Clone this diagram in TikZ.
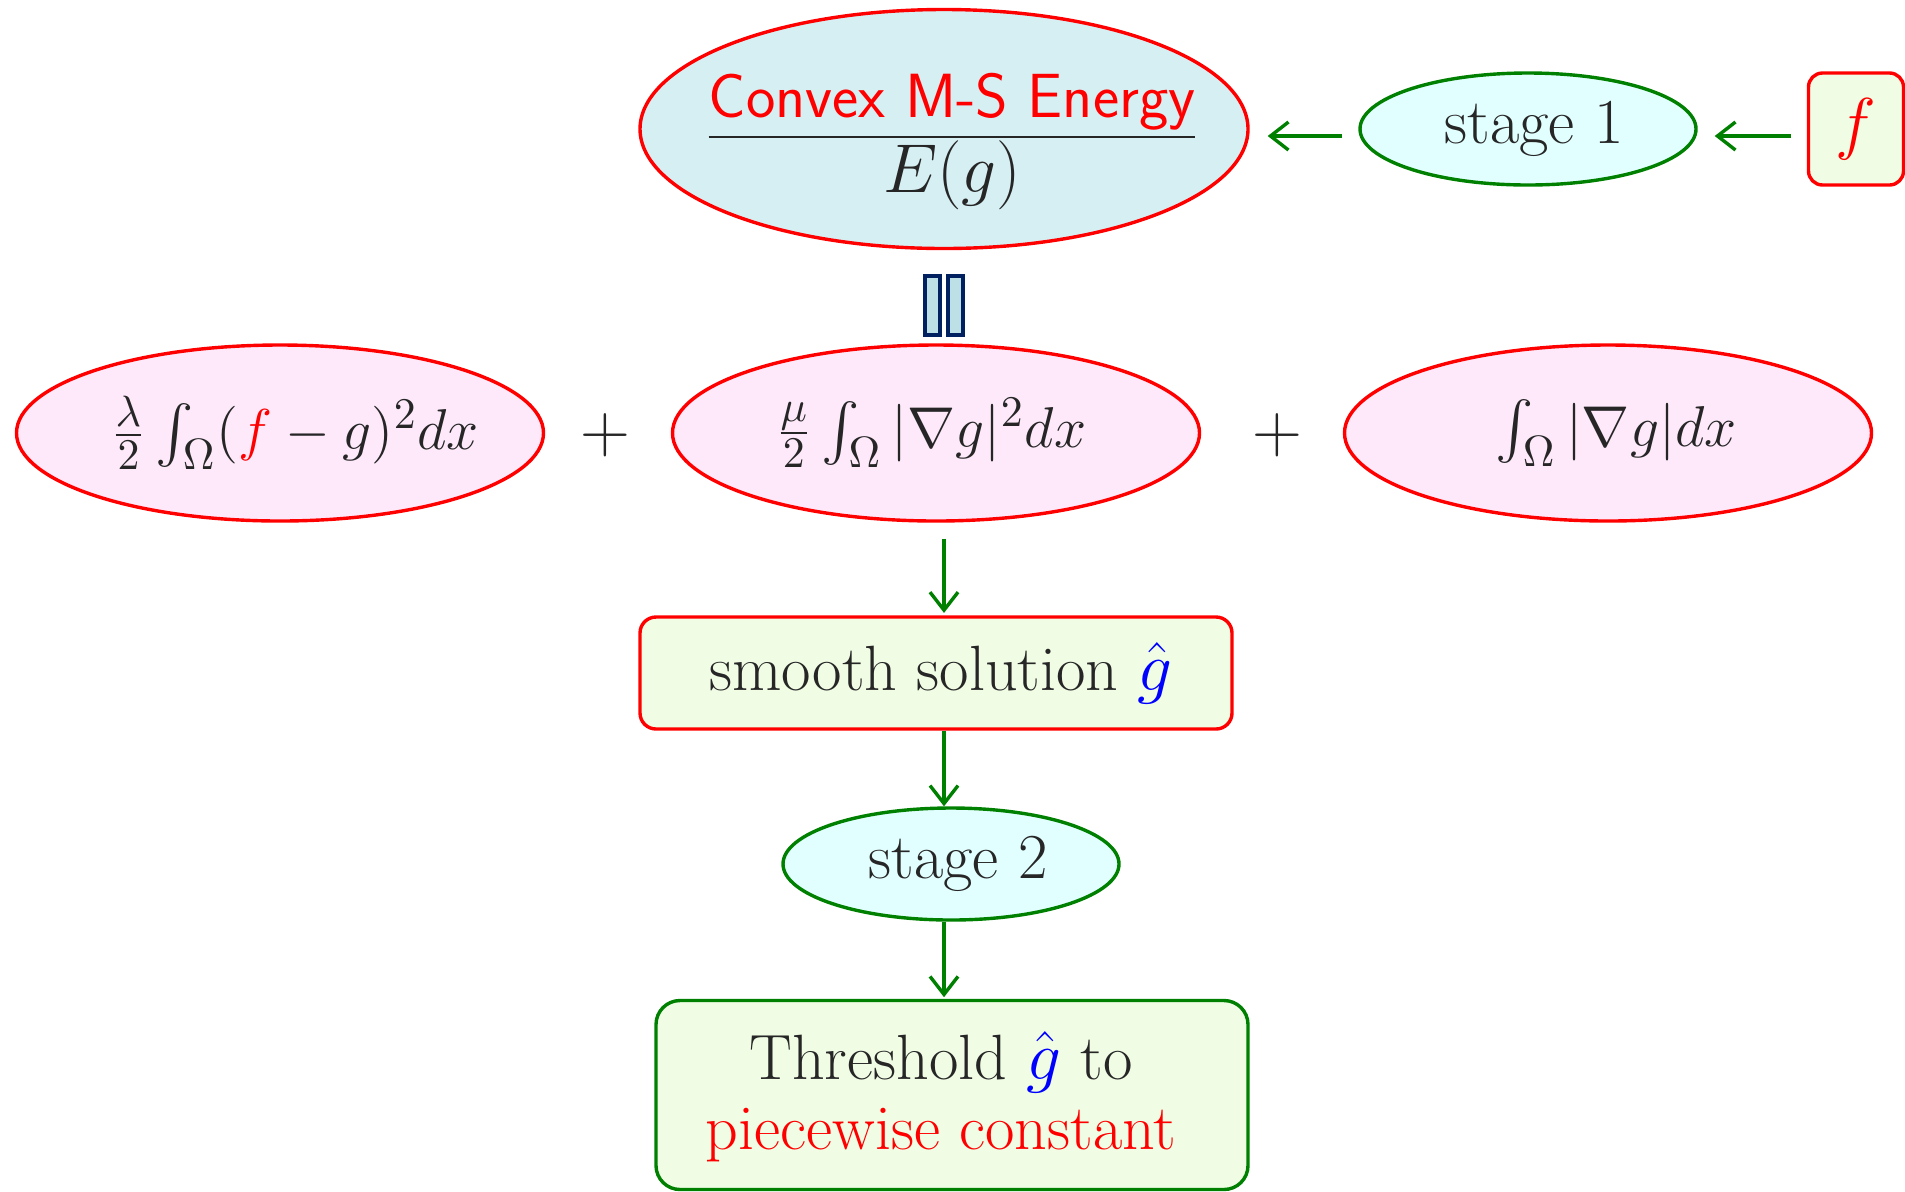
\documentclass[tikz,border=0pt]{standalone}
\usepackage{amsmath}
\usetikzlibrary{shapes.geometric,arrows.meta}
\definecolor{ecyan}{RGB}{214,239,243}
\definecolor{scyan}{RGB}{226,255,255}
\definecolor{pinkf}{RGB}{253,233,250}
\definecolor{greenf}{RGB}{240,253,228}
\definecolor{darkg}{RGB}{0,128,0}
\definecolor{navy}{RGB}{0,32,96}
\definecolor{barf}{RGB}{189,224,230}
\begin{document}
\begin{tikzpicture}[x=0.25pt,y=-0.25pt,font=\fontsize{16}{17.6}\selectfont,
  energyell/.style={ellipse,draw=red,fill=ecyan,line width=0.85pt,inner sep=0pt,minimum width=152pt,minimum height=59.75pt},
  stageell/.style={ellipse,draw=darkg,fill=scyan,line width=0.85pt,inner sep=0pt,minimum width=84pt,minimum height=28pt},
  termell/.style={ellipse,draw=red,fill=pinkf,line width=0.85pt,inner sep=0pt,minimum width=131.75pt,minimum height=44pt},
  redbox/.style={rectangle,rounded corners=3.5pt,draw=red,fill=greenf,line width=0.85pt,inner sep=0pt},
  greenbox/.style={rectangle,rounded corners=6pt,draw=darkg,fill=greenf,line width=0.85pt,inner sep=0pt},
  barbox/.style={rectangle,draw=navy,fill=barf,line width=1pt,inner sep=0pt,minimum width=3.75pt,minimum height=14.75pt},
  garr/.style={draw=darkg,line width=0.85pt,-{Straight Barb[length=4.5pt,width=7pt]}},
  txt/.style={inner sep=0pt,text=black!85},
  mtxt/.style={txt,font=\fontsize{15.6}{17.6}\selectfont}
]
\useasboundingbox (0,0) rectangle (1905,1191);

% top row
\node[energyell] (E) at (944,129) {};
\node[txt] (Et) at (952,142) {\renewcommand\arraystretch{0.85}\setlength\arrayrulewidth{0.45pt}%
  \begin{tabular}{@{}c@{}}{\fontsize{15.6}{17.6}\selectfont\sffamily\color{red}Convex M-S Energy}\\\hline
  \rule{0pt}{13.7pt}$E(g)$\end{tabular}};
\node[stageell] (s1) at (1528,129) {};
\node[txt] (s1t) at (1534,129) {stage 1};
\node[redbox,minimum width=23.75pt,minimum height=28pt] (f) at (1856,129) {};
\node[txt] (ft) at (1856,129) {$\color{red}f$};

% equality bars
\node[barbox] (b1) at (932.5,305) {};
\node[barbox] (b2) at (955.5,305) {};

% energy terms
\node[termell] (t1) at (280,433) {};
\node[mtxt] (t1t) at (295,433) {$\frac{\lambda}{2}\int_\Omega(\textcolor{red}{f}-g)^2dx$};
\node[txt,font=\LARGE] (p1) at (605,435) {$+$};
\node[termell] (t2) at (936,433) {};
\node[mtxt] (t2t) at (931,433) {$\frac{\mu}{2}\int_\Omega|\nabla g|^2dx$};
\node[txt,font=\LARGE] (p2) at (1277,435) {$+$};
\node[termell] (t3) at (1608,433) {};
\node[mtxt] (t3t) at (1616,433) {$\int_\Omega|\nabla g|dx$};

% lower chain
\node[redbox,rounded corners=4pt,minimum width=148pt,minimum height=28pt] (sm) at (936,673) {};
\node[txt] (smt) at (941,673) {smooth solution $\textcolor{blue}{\hat{g}}$};
\node[stageell] (s2) at (951,864) {};
\node[txt] (s2t) at (958,864) {stage 2};
\node[greenbox,minimum width=148pt,minimum height=47.25pt] (th) at (952,1095) {};
\node[txt,align=center] (tht) at (941,1097) {Threshold $\textcolor{blue}{\hat{g}}$ to\\\textcolor{red}{piecewise constant}};

% connectors
\draw[garr,shorten <=4pt,shorten >=4.25pt] ([yshift=-1.75pt]f.west) -- ([yshift=-1.75pt]s1.east);
\draw[garr,shorten <=4pt,shorten >=4.5pt] ([yshift=-1.75pt]s1.west) -- ([yshift=-1.75pt]E.east);
\draw[garr,shorten <=4pt,shorten >=0.6pt] (t2.south -| E.center) -- (sm.north -| E.center);
\draw[garr] (sm.south -| E.center) -- (s2.north -| E.center);
\draw[garr,shorten >=0.4pt] (s2.south -| E.center) -- (th.north -| E.center);
\end{tikzpicture}
\end{document}
